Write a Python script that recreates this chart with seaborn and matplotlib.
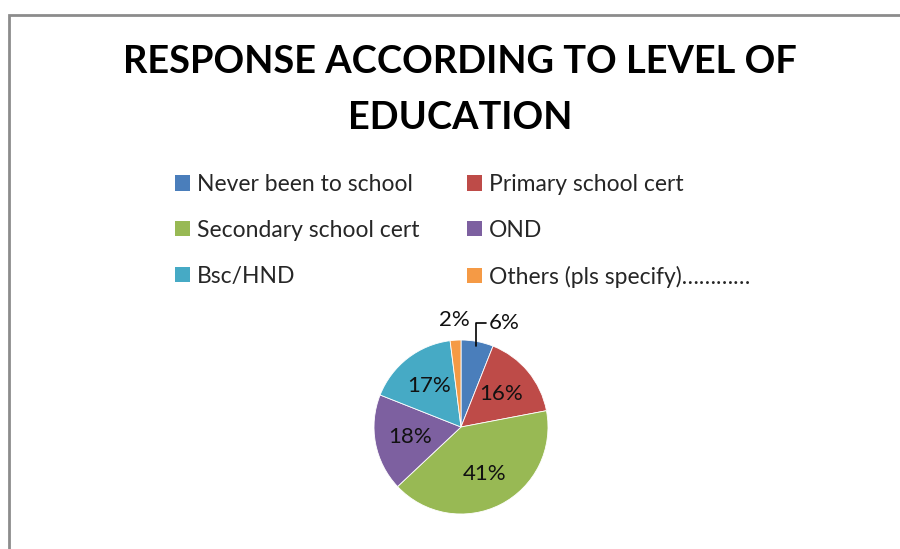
import matplotlib
matplotlib.use("Agg")
import matplotlib.pyplot as plt
from matplotlib.lines import Line2D
from matplotlib.patches import Patch
import numpy as np
import seaborn as sns

categories = ["Never been to school", "Primary school cert", "Secondary school cert",
              "OND", "Bsc/HND", "Others (pls specify)…………"]
shares = [6, 16, 41, 18, 17, 2]
colors = ["#4A7EBB", "#BE4B48", "#98B954", "#7D60A0", "#46AAC5", "#F59A45"]
title = "RESPONSE ACCORDING TO LEVEL OF\nEDUCATION"

sns.set_theme(style="white")
plt.rcParams["font.family"] = ["Lato", "DejaVu Sans"]

W, H = 900, 549
fig = plt.figure(figsize=(W / 100, H / 100), dpi=100)
fig.patch.set_facecolor("white")

# chart frame (left and top edges)
frame = Line2D([9 / W, 9 / W, 1.0], [0.0, 1 - 15 / H, 1 - 15 / H],
               transform=fig.transFigure, color="#8C8C8C", lw=2.0,
               solid_joinstyle="miter")
fig.add_artist(frame)

fig.text(460 / W, 1 - 90 / H, title, ha="center", va="center",
         fontsize=27.4, fontweight="bold", color="black", linespacing=1.78)

# pie
cx, cy, r = 461, 427, 87
ax = fig.add_axes([(cx - r) / W, (H - cy - r) / H, 2 * r / W, 2 * r / H])
wedges, _ = ax.pie(shares, colors=colors, startangle=90, counterclock=False,
                   wedgeprops=dict(linewidth=0.6, edgecolor="white"))
ax.set_xlim(-1, 1)
ax.set_ylim(-1, 1)
ax.set_aspect("equal")
ax.axis("off")

label_kw = dict(fontsize=16, color="#111111")
for i, (w, v) in enumerate(zip(wedges, shares)):
    mid = np.deg2rad((w.theta1 + w.theta2) / 2)
    px, py = np.cos(mid), np.sin(mid)
    label = f"{v}%"
    if v >= 10:
        ax.text(0.6 * px, 0.6 * py, label, ha="center", va="center", **label_kw)
    elif i == 0:
        # leader line with an elbow for the first small slice
        ax.annotate(label, xy=(0.95 * px, 0.95 * py), xytext=(0.32, 1.2),
                    ha="left", va="center", annotation_clip=False,
                    arrowprops=dict(arrowstyle="-", color="black", lw=1.2,
                                    connectionstyle="angle,angleA=0,angleB=90,rad=0",
                                    shrinkA=0, shrinkB=0),
                    **label_kw)
    else:
        ax.text(1.15 * px, 1.23 * py, label, ha="center", va="center",
                clip_on=False, **label_kw)

# legend, two columns filled row by row
order = [0, 2, 4, 1, 3, 5]
handles = [Patch(facecolor=colors[i], edgecolor="none") for i in order]
labels = [categories[i] for i in order]
fig.legend(handles, labels, ncol=2, loc="upper left",
           bbox_to_anchor=(175 / W, 1 - 174 / H), frameon=False,
           fontsize=16.5, handlelength=0.65, handleheight=0.65,
           handletextpad=0.3, columnspacing=2.1, labelspacing=1.08,
           borderpad=0, borderaxespad=0)

fig.savefig("out.png", dpi=100, facecolor="white")
